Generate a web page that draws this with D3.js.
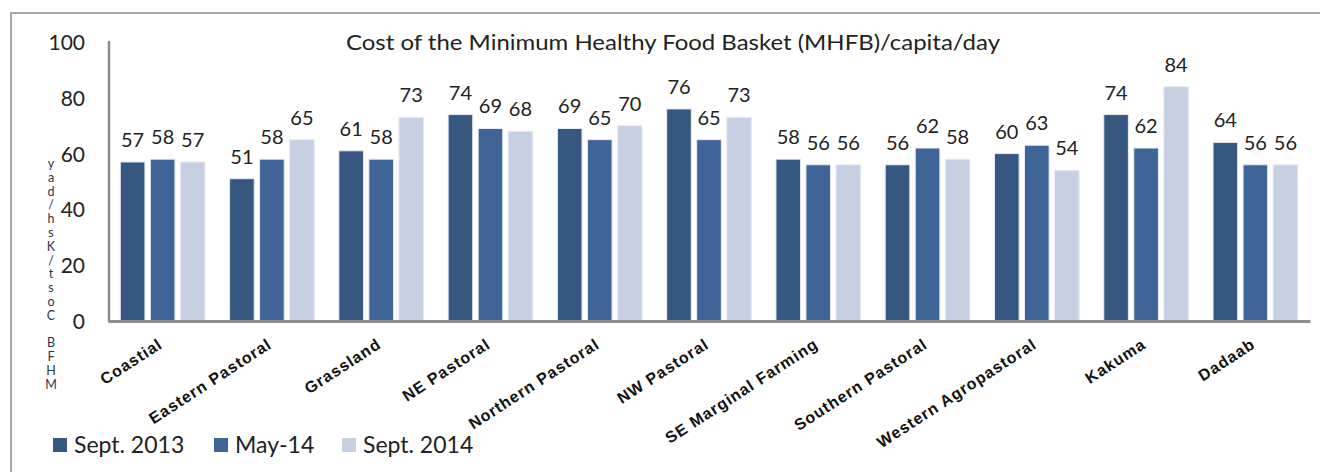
<!DOCTYPE html>
<html><head><meta charset="utf-8">
<script src="https://cdn.jsdelivr.net/npm/d3@7"></script>
<style>
html,body{margin:0;padding:0;background:#fff;}
svg{display:block;}
</style></head>
<body>
<svg id="chart" width="1320" height="472"></svg>
<script>
const categories = ["Coastial","Eastern Pastoral","Grassland","NE Pastoral","Northern Pastoral","NW Pastoral","SE Marginal Farming","Southern Pastoral","Western Agropastoral","Kakuma","Dadaab"];
const seriesNames = ["Sept. 2013","May-14","Sept. 2014"];
const sept2013 = [57,51,61,74,69,76,58,56,60,74,64];
const may14    = [58,58,58,69,65,65,56,62,63,62,56];
const sept2014 = [57,65,73,68,70,73,56,58,54,84,56];
const yTicks = [0,20,40,60,80,100];
const colors = ["#365880","#3e6596","#c7d0e3"];
const title = "Cost of the Minimum Healthy Food Basket (MHFB)/capita/day";
const yLabel = "MHFB Cost/Ksh/day";

const values = [sept2013, may14, sept2014];
const svg = d3.select("#chart");
const FONT = "Lato, 'Open Sans', sans-serif";

// outer frame
svg.append("path").attr("d","M11,1000 V13 H1330").attr("fill","none")
  .attr("stroke","#a8a8a8").attr("stroke-width",2);

const x0 = d3.scaleBand().domain(categories).range([108,1310]).padding(0);
const x1 = d3.scaleBand().domain(d3.range(3)).range([0,x0.bandwidth()]).paddingInner(0.18).paddingOuter(0.41);
const y = d3.scaleLinear().domain([0,100]).range([321,42]);

// title
svg.append("text").attr("x",673).attr("y",50).attr("text-anchor","middle")
  .attr("font-family",FONT).attr("font-size",22).attr("fill","#222")
  .attr("textLength",654).attr("lengthAdjust","spacingAndGlyphs").text(title);

// y tick labels
const yAxis = d3.axisLeft(y).tickValues(yTicks).tickSize(0).tickPadding(0).tickFormat(d3.format("d"));
const gy = svg.append("g").attr("transform","translate(85,0)").call(yAxis);
gy.select(".domain").remove();
gy.selectAll("text").attr("font-family",FONT).attr("font-size",21).attr("fill","#222").attr("dy","0.36em");

// bars
const g = svg.append("g");
categories.forEach((c,i)=>{
  values.forEach((arr,s)=>{
    const v = arr[i];
    const bx = x0(c)+x1(s);
    g.append("rect").attr("x",bx).attr("y",y(v)).attr("width",x1.bandwidth())
      .attr("height",y(0)-y(v)).attr("fill",colors[s])
      .attr("stroke", "#e6ebf3").attr("stroke-width",1);
    g.append("text").attr("x",bx+x1.bandwidth()/2).attr("y",y(v)-15)
      .attr("text-anchor","middle").attr("font-family",FONT).attr("font-size",20)
      .attr("fill","#222").text(v);
  });
});

// axes lines
svg.append("line").attr("x1",109).attr("x2",109).attr("y1",41).attr("y2",322)
  .attr("stroke","#8c8c8c").attr("stroke-width",2.5);
const xAxis = d3.axisBottom(x0).tickSize(0).tickFormat("");
const gx = svg.append("g").attr("transform","translate(0,321)").call(xAxis);
gx.select(".domain").attr("stroke","#8c8c8c").attr("stroke-width",3);

// x labels
categories.forEach(c=>{
  const cx = x0(c)+x0.bandwidth()/2;
  svg.append("text").attr("transform",`translate(${cx+1},${347}) rotate(-33)`)
    .attr("text-anchor","end").attr("font-family","'Liberation Sans', Arial, sans-serif")
    .attr("font-weight","bold").attr("font-size",16).attr("letter-spacing",1)
    .attr("fill","#111").text(c);
});

// y label (stacked characters, no overlap)
const chars = yLabel.split("").reverse();
chars.forEach((ch,k)=>{
  svg.append("text").attr("x",51).attr("y",168+k*13.8)
    .attr("font-family",FONT).attr("font-size",12.5).attr("fill","#2a3550")
    .attr("text-anchor","middle").text(ch);
});

// legend
const legX = [53,214,342];
seriesNames.forEach((n,s)=>{
  svg.append("rect").attr("x",legX[s]).attr("y",438).attr("width",14).attr("height",14).attr("fill",colors[s]);
  svg.append("text").attr("x",legX[s]+21).attr("y",453).attr("font-family",FONT).attr("font-size",23)
    .attr("fill","#222").text(n);
});
</script>
</body></html>
